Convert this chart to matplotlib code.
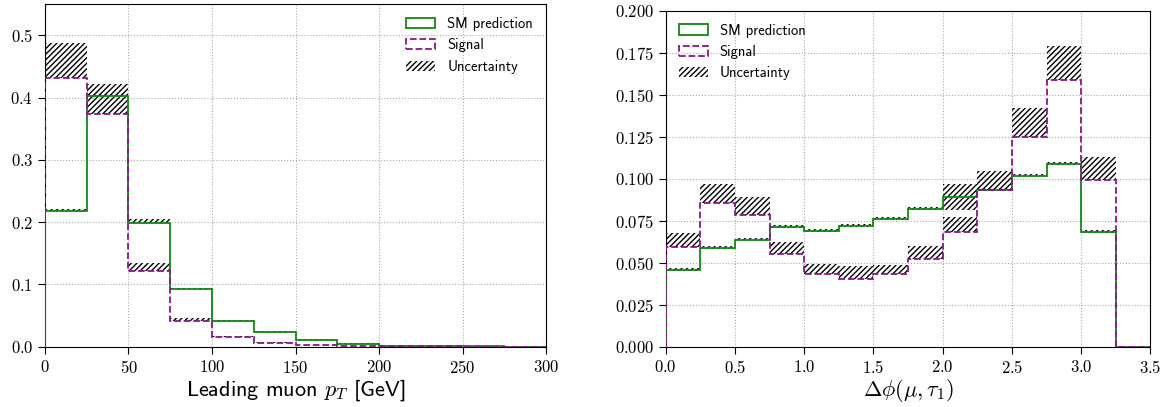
import numpy as np
import matplotlib
matplotlib.use("Agg")
import matplotlib.pyplot as plt
from matplotlib.patches import Patch

plt.rcParams['font.family'] = 'cmr10'
plt.rcParams['mathtext.fontset'] = 'cm'
plt.rcParams['axes.unicode_minus'] = False
plt.rcParams['axes.formatter.use_mathtext'] = True
plt.rcParams['hatch.linewidth'] = 1.0

# ---- Left panel: leading muon pT ----
pt_edges = np.arange(0, 301, 25)
pt_sm = [0.218, 0.402, 0.199, 0.093, 0.041, 0.0235, 0.011, 0.005, 0.002, 0.001, 0.0006, 0.0003]
pt_sm_err_up = [0.003, 0.003, 0.006, 0.002, 0.002, 0.0015, 0.001, 0.0008, 0.0005, 0.0003, 0.0002, 0.0001]
pt_sm_err_dn = [0.0, 0.0, 0.0, 0.0, 0.0, 0.0, 0.0, 0.0, 0.0, 0.0, 0.0, 0.0]
pt_sig = [0.432, 0.373, 0.122, 0.041, 0.015, 0.006, 0.0027, 0.0016, 0.001, 0.0006, 0.0004, 0.0002]
pt_sig_err_up = [0.055, 0.048, 0.013, 0.0055, 0.002, 0.001, 0.0006, 0.0004, 0.0003, 0.0002, 0.0001, 0.0001]

# ---- Right panel: delta phi(mu, tau1) ----
dphi_edges = np.arange(0, 3.51, 0.25)
dphi_sm = [0.0457, 0.0589, 0.0638, 0.0713, 0.0688, 0.0717, 0.0761, 0.0820, 0.0889, 0.0933, 0.1018, 0.1087, 0.0680, 0.0]
dphi_sm_err_up = [0.0012, 0.0012, 0.0012, 0.0012, 0.0012, 0.0012, 0.0012, 0.0012, 0.0077, 0.0012, 0.0012, 0.0012, 0.0012, 0.0]
dphi_sm_err_dn = [0.0005, 0.0005, 0.0005, 0.0005, 0.0005, 0.0005, 0.0005, 0.0005, 0.0076, 0.0005, 0.0005, 0.0005, 0.0005, 0.0]
dphi_sig = [0.0593, 0.0856, 0.0783, 0.0553, 0.0435, 0.0405, 0.0431, 0.0524, 0.0685, 0.0930, 0.1246, 0.1587, 0.0992, 0.0]
dphi_sig_err_up = [0.0085, 0.0112, 0.0108, 0.0072, 0.0059, 0.0075, 0.0053, 0.0075, 0.0089, 0.0118, 0.0173, 0.0203, 0.0135, 0.0]

GREEN = '#118811'
PURPLE = '#8a168a'
HATCH = '//////'

fig = plt.figure(figsize=(11.68, 4.07), dpi=100)
axL = fig.add_axes([0.0385, 0.148, 0.429, 0.842])
axR = fig.add_axes([0.570, 0.148, 0.415, 0.826])


def draw(ax, edges, sm, sm_up, sm_dn, sig, sig_up):
    edges = np.asarray(edges, float)
    w = np.diff(edges)
    sm = np.asarray(sm); sig = np.asarray(sig)
    sm_up = np.asarray(sm_up); sm_dn = np.asarray(sm_dn); sig_up = np.asarray(sig_up)
    ax.bar(edges[:-1], sm_up + sm_dn, bottom=sm - sm_dn, width=w, align='edge',
           fill=False, hatch=HATCH, edgecolor='black', linewidth=0, zorder=2)
    ax.bar(edges[:-1], sig_up, bottom=sig, width=w, align='edge',
           fill=False, hatch=HATCH, edgecolor='black', linewidth=0, zorder=2)
    ax.stairs(sm, edges, color=GREEN, linewidth=1.3, baseline=0, zorder=3)
    ax.stairs(sig, edges, color=PURPLE, linewidth=1.3, linestyle='--', baseline=0, zorder=3)
    ax.grid(True, linestyle=':', color='#aaaaaa', linewidth=0.8, zorder=0)
    ax.set_axisbelow(True)
    ax.tick_params(labelsize=12, direction='out', length=5)


draw(axL, pt_edges, pt_sm, pt_sm_err_up, pt_sm_err_dn, pt_sig, pt_sig_err_up)
draw(axR, dphi_edges, dphi_sm, dphi_sm_err_up, dphi_sm_err_dn, dphi_sig, dphi_sig_err_up)

axL.set_xlim(0, 300)
axL.set_ylim(0, 0.55)
axL.set_xticks(np.arange(0, 301, 50))
axL.set_yticks(np.arange(0, 0.51, 0.1))
axL.set_xlabel(r'Leading muon $p_T$ [GeV]', fontsize=16, family='cmss10', labelpad=1)

axR.set_xlim(0, 3.5)
axR.set_ylim(0, 0.2)
axR.set_xticks(np.arange(0, 3.51, 0.5))
axR.set_yticks(np.arange(0, 0.201, 0.025))
axR.set_xlabel(r'$\Delta\phi(\mu, \tau_1)$', fontsize=16, labelpad=1)

handles = [Patch(facecolor='none', edgecolor=GREEN, linewidth=1.3),
           Patch(facecolor='none', edgecolor=PURPLE, linewidth=1.3, linestyle='--'),
           Patch(facecolor='none', edgecolor='black', linewidth=0, hatch=HATCH)]
labels = ['SM prediction', 'Signal', 'Uncertainty']
axL.legend(handles, labels, loc='upper right', frameon=False, prop={'family': 'cmss10', 'size': 10.5})
axR.legend(handles, labels, loc='upper left', frameon=False, prop={'family': 'cmss10', 'size': 10.5})

fig.savefig('out.png', dpi=100)
